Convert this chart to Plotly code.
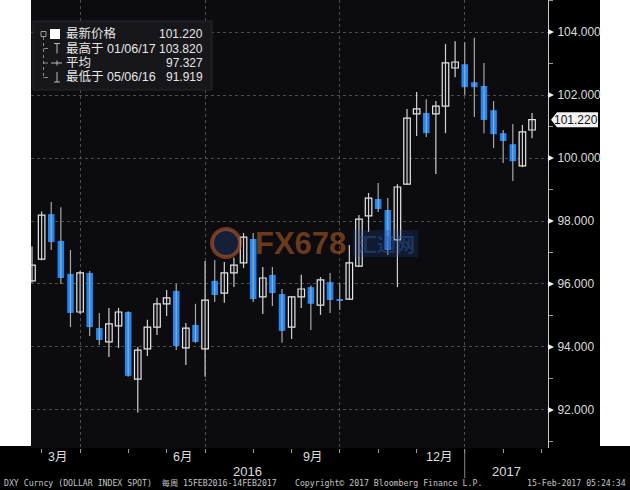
import plotly.graph_objects as go

# ---------------- data (weekly DXY, 15FEB2016 - 14FEB2017) ----------------
weeks = ["2016-02-19", "2016-02-26", "2016-03-04", "2016-03-11", "2016-03-18", "2016-03-25",
         "2016-04-01", "2016-04-08", "2016-04-15", "2016-04-22", "2016-04-29", "2016-05-06",
         "2016-05-13", "2016-05-20", "2016-05-27", "2016-06-03", "2016-06-10", "2016-06-17",
         "2016-06-24", "2016-07-01", "2016-07-08", "2016-07-15", "2016-07-22", "2016-07-29",
         "2016-08-05", "2016-08-12", "2016-08-19", "2016-08-26", "2016-09-02", "2016-09-09",
         "2016-09-16", "2016-09-23", "2016-09-30", "2016-10-07", "2016-10-14", "2016-10-21",
         "2016-10-28", "2016-11-04", "2016-11-11", "2016-11-18", "2016-11-25", "2016-12-02",
         "2016-12-09", "2016-12-16", "2016-12-23", "2016-12-30", "2017-01-06", "2017-01-13",
         "2017-01-20", "2017-01-27", "2017-02-03", "2017-02-10", "2017-02-17"]
opens = [96.10, 96.79, 98.22, 97.37, 96.32, 95.11, 96.35, 94.60, 94.16, 94.67, 95.11, 92.98,
         93.94, 94.63, 95.37, 95.78, 93.97, 94.70, 93.94, 96.10, 95.71, 96.35, 96.67, 97.43,
         95.59, 96.29, 95.68, 94.63, 95.59, 95.90, 95.33, 96.06, 95.50, 95.52, 96.57, 98.16,
         98.70, 98.35, 97.40, 99.17, 101.40, 101.43, 101.40, 101.65, 102.86, 102.98, 102.41,
         102.29, 101.52, 100.79, 100.44, 99.75, 100.89]
highs = [97.19, 98.30, 98.60, 98.44, 97.08, 96.41, 96.41, 95.08, 95.24, 95.24, 95.13, 94.00,
         94.86, 95.56, 95.81, 96.00, 94.76, 95.37, 96.73, 96.76, 96.70, 96.83, 97.62, 97.62,
         96.54, 96.54, 95.84, 95.62, 96.29, 95.95, 96.22, 96.35, 96.03, 97.24, 98.19, 98.89,
         99.21, 98.73, 99.17, 101.56, 102.10, 101.87, 101.81, 103.62, 103.71, 103.68, 103.82,
         103.02, 101.81, 100.89, 101.08, 101.05, 101.43]
lows = [96.05, 96.75, 97.08, 96.00, 94.63, 95.05, 94.35, 94.06, 93.68, 93.97, 93.05, 91.92,
        93.71, 94.38, 94.98, 93.90, 93.43, 94.13, 93.05, 95.43, 95.40, 95.90, 96.51, 95.43,
        95.05, 95.30, 94.13, 94.25, 95.24, 94.54, 95.02, 95.08, 95.17, 95.49, 96.54, 97.65,
        98.29, 96.92, 95.90, 99.14, 100.70, 100.67, 99.49, 100.79, 102.57, 102.00, 101.30,
        100.79, 100.32, 99.84, 99.27, 99.71, 100.63]
closes = [96.60, 98.19, 97.33, 96.19, 95.08, 96.35, 94.63, 94.22, 94.73, 95.11, 93.08, 93.90,
          94.63, 95.37, 95.56, 94.03, 94.60, 94.16, 95.49, 95.65, 96.35, 96.60, 97.49, 95.52,
          96.19, 95.71, 94.51, 95.59, 95.84, 95.37, 96.13, 95.49, 95.46, 96.67, 98.06, 98.73,
          98.38, 97.08, 99.08, 101.27, 101.56, 100.79, 101.65, 103.02, 103.05, 102.25, 102.25,
          101.21, 100.76, 100.54, 99.90, 100.83, 101.22]

y_ticks = [92, 94, 96, 98, 100, 102, 104]
y_minor = [91, 93, 95, 97, 99, 101, 103, 105]
month_end_idx = [1, 5, 10, 14, 18, 23, 27, 32, 36, 40, 45, 49, 53]
quarter_end_idx = [5, 18, 32, 45]
month_labels = ["3月", "6月", "9月", "12月"]
month_label_pos = [2.6, 15.7, 29.2, 42.3]
year_labels = ["2016", "2017"]
year_label_pos = [22.45, 49.3]
year_split = 45

legend_names = ["最新价格", "最高于 01/06/17", "平均", "最低于 05/06/16"]
legend_values = ["101.220", "103.820", "97.327", "91.919"]
last_price = 101.22

# ---------------- styling helpers ----------------
W, H = 630, 490
L, R, T, B = 31, 82, 0, 42
PW, PH = W - L - R, H - T - B
PLOT_BG = "#0b0b10"
BLUE = "#1f86f5"


def px(x):
    return (x - L) / PW


def py(y):
    return (H - B - y) / PH


n = len(opens)
idx = list(range(n))
up = [i for i in idx if closes[i] >= opens[i]]
dn = [i for i in idx if closes[i] < opens[i]]

fig = go.Figure()


def wick_xy(ids):
    xs, ys = [], []
    for i in ids:
        xs += [i, i, None]
        ys += [lows[i], highs[i], None]
    return xs, ys


for ids, col in ((dn, "#a8a8a8"), (up, "#d2d2d2")):
    wx, wy = wick_xy(ids)
    fig.add_trace(go.Scatter(x=wx, y=wy, mode="lines", line=dict(color=col, width=1.2),
                             hoverinfo="skip"))

fig.add_trace(go.Bar(x=up, y=[closes[i] - opens[i] for i in up], base=[opens[i] for i in up],
                     width=0.68, marker=dict(color=PLOT_BG, line=dict(color="#e8e8e8", width=1.2)),
                     hovertext=[weeks[i] for i in up]))
fig.add_trace(go.Bar(x=dn, y=[opens[i] - closes[i] for i in dn], base=[closes[i] for i in dn],
                     width=0.68, marker=dict(color=BLUE, line=dict(width=0)),
                     hovertext=[weeks[i] for i in dn]))

shapes = []
# white strips left / right of the dark panels
shapes.append(dict(type="rect", xref="paper", yref="paper", x0=px(0), x1=px(L), y0=py(446), y1=py(0),
                   fillcolor="white", line=dict(width=0), layer="below"))
shapes.append(dict(type="rect", xref="paper", yref="paper", x0=px(600), x1=px(W), y0=py(446), y1=py(0),
                   fillcolor="white", line=dict(width=0), layer="below"))
# legend box
shapes.append(dict(type="rect", xref="paper", yref="paper", x0=px(33), x1=px(212), y0=py(90), y1=py(21),
                   fillcolor="#16161b", line=dict(color="#26262c", width=1), layer="above"))
# tree icon lines
shapes.append(dict(type="rect", xref="paper", yref="paper", x0=px(41), x1=px(46), y0=py(36.5), y1=py(31.5),
                   line=dict(color="#9a9a9a", width=1), layer="above"))
shapes.append(dict(type="line", xref="paper", yref="paper", x0=px(43.5), x1=px(43.5), y0=py(37), y1=py(77.5),
                   line=dict(color="#8a8a8a", width=1, dash="dot"), layer="above"))
for yy in (48.5, 63, 77.5):
    shapes.append(dict(type="line", xref="paper", yref="paper", x0=px(43.5), x1=px(48), y0=py(yy), y1=py(yy),
                       line=dict(color="#8a8a8a", width=1), layer="above"))
# white square for latest price
shapes.append(dict(type="rect", xref="paper", yref="paper", x0=px(50), x1=px(60), y0=py(39), y1=py(29),
                   fillcolor="white", line=dict(width=0), layer="above"))
# high / avg / low icons
shapes.append(dict(type="line", xref="paper", yref="paper", x0=px(57), x1=px(57), y0=py(43.5), y1=py(53.5),
                   line=dict(color="#bbbbbb", width=1), layer="above"))
shapes.append(dict(type="line", xref="paper", yref="paper", x0=px(54), x1=px(60), y0=py(43.5), y1=py(43.5),
                   line=dict(color="#bbbbbb", width=1), layer="above"))
shapes.append(dict(type="line", xref="paper", yref="paper", x0=px(51), x1=px(62), y0=py(63), y1=py(63),
                   line=dict(color="#bbbbbb", width=1), layer="above"))
shapes.append(dict(type="line", xref="paper", yref="paper", x0=px(57), x1=px(57), y0=py(60.5), y1=py(65.5),
                   line=dict(color="#bbbbbb", width=1), layer="above"))
shapes.append(dict(type="line", xref="paper", yref="paper", x0=px(57), x1=px(57), y0=py(72), y1=py(82),
                   line=dict(color="#bbbbbb", width=1), layer="above"))
shapes.append(dict(type="line", xref="paper", yref="paper", x0=px(54), x1=px(60), y0=py(82), y1=py(82),
                   line=dict(color="#bbbbbb", width=1), layer="above"))
# y tick triangle markers
for v in y_ticks:
    shapes.append(dict(type="path", xref="paper", yref="y", xsizemode="pixel", ysizemode="pixel",
                       xanchor=1, yanchor=v, path="M 0,-3 L 6,0 L 0,3 Z",
                       fillcolor="#eeeeee", line=dict(width=0)))
# last price flag
shapes.append(dict(type="path", xref="paper", yref="y", xsizemode="pixel", ysizemode="pixel",
                   xanchor=1, yanchor=last_price, path="M 3,0 L 9,7.5 L 50,7.5 L 50,-7.5 L 9,-7.5 Z",
                   fillcolor="#f2f2f2", line=dict(width=0)))
# year separator
shapes.append(dict(type="line", xref="x", yref="paper", x0=year_split, x1=year_split, y0=py(449), y1=py(478),
                   line=dict(color="#888888", width=1)))
# watermark logo circle
shapes.append(dict(type="circle", xref="paper", yref="paper", x0=px(212), x1=px(240), y0=py(257), y1=py(229),
                   line=dict(color="rgba(200,95,40,0.55)", width=4), fillcolor="rgba(40,70,130,0.35)"))
shapes.append(dict(type="rect", xref="paper", yref="paper", x0=px(353), x1=px(418), y0=py(257), y1=py(230),
                   fillcolor="rgba(35,70,140,0.25)", line=dict(width=0)))

ann = []
leg_rows = [34, 48.5, 63, 77.5]
LEGFONT = "Liberation Sans, Noto Sans CJK SC, sans-serif"
for yy, nm, val in zip(leg_rows, legend_names, legend_values):
    ann.append(dict(xref="paper", yref="paper", x=px(64), y=py(yy), text=nm, showarrow=False,
                    xanchor="left", yanchor="middle", font=dict(family=LEGFONT, size=12.5, color="#e6e6e6")))
    ann.append(dict(xref="paper", yref="paper", x=px(205), y=py(yy), text=val, showarrow=False,
                    xanchor="right", yanchor="middle", font=dict(family=LEGFONT, size=12, color="#e6e6e6")))

for lab, pos in zip(month_labels, month_label_pos):
    ann.append(dict(xref="x", yref="paper", x=pos, y=py(457), text=lab, showarrow=False,
                    xanchor="center", yanchor="middle", font=dict(family=LEGFONT, size=12.5, color="#dddddd")))
for lab, pos in zip(year_labels, year_label_pos):
    ann.append(dict(xref="x", yref="paper", x=pos, y=py(471), text=lab, showarrow=False,
                    xanchor="center", yanchor="middle", font=dict(family=LEGFONT, size=13, color="#dddddd")))

FOOT = dict(family="DejaVu Sans Mono, Noto Sans CJK SC, monospace", size=8.2, color="#c4c4c4")
ann.append(dict(xref="paper", yref="paper", x=px(2), y=py(483), showarrow=False, xanchor="left",
                yanchor="middle", text="DXY Curncy (DOLLAR INDEX SPOT)  每周 15FEB2016-14FEB2017", font=FOOT))
ann.append(dict(xref="paper", yref="paper", x=px(388), y=py(483), showarrow=False, xanchor="center",
                yanchor="middle", text="Copyright© 2017 Bloomberg Finance L.P.", font=FOOT))
ann.append(dict(xref="paper", yref="paper", x=px(628), y=py(483), showarrow=False, xanchor="right",
                yanchor="middle", text="15-Feb-2017 05:24:34", font=FOOT))

# last price text
ann.append(dict(xref="paper", yref="y", x=px(576), y=last_price, text=f"{last_price:.3f}", showarrow=False,
                xanchor="center", yanchor="middle", font=dict(family=LEGFONT, size=12, color="#111111")))

# watermark text
ann.append(dict(xref="paper", yref="paper", x=px(300), y=py(243), text="<b>FX678</b>", showarrow=False,
                xanchor="center", yanchor="middle",
                font=dict(family="Liberation Sans, sans-serif", size=31, color="rgba(190,100,40,0.55)")))
ann.append(dict(xref="paper", yref="paper", x=px(386), y=py(243), text="<b>汇通网</b>", showarrow=False,
                xanchor="center", yanchor="middle",
                font=dict(family="Noto Sans CJK SC", size=19, color="rgba(45,90,170,0.45)")))

fig.update_layout(
    width=W, height=H, margin=dict(l=L, r=R, t=T, b=B, pad=0),
    paper_bgcolor="#000000", plot_bgcolor=PLOT_BG, showlegend=False, barmode="overlay",
    shapes=shapes, annotations=ann,
    xaxis=dict(range=[-0.104, 53.66], tickvals=quarter_end_idx, showticklabels=False,
               ticks="outside", ticklen=4, tickcolor="#999999", showgrid=True, griddash="dot",
               gridcolor="#4e4e4e", gridwidth=1, zeroline=False, showline=False, fixedrange=True,
               minor=dict(tickvals=month_end_idx, ticks="outside", ticklen=4, tickcolor="#999999",
                          showgrid=False)),
    yaxis=dict(range=[90.79, 105.02], side="right", tickvals=y_ticks,
               ticktext=[f"{v:.3f}" for v in y_ticks], ticks="outside", ticklen=6,
               tickcolor="rgba(0,0,0,0)", tickfont=dict(family=LEGFONT, size=12, color="#dcdcdc"),
               showgrid=True, griddash="dot", gridcolor="#4e4e4e", gridwidth=1, zeroline=False,
               showline=True, linecolor="#c8c8c8", linewidth=1, fixedrange=True,
               minor=dict(tickvals=y_minor, ticks="outside", ticklen=4, tickcolor="#9a9a9a",
                          showgrid=False)),
    hovermode=False,
)

fig.write_html("out.html", config={"displayModeBar": False},
               post_script="document.body.style.margin='0';document.body.style.padding='0';")
